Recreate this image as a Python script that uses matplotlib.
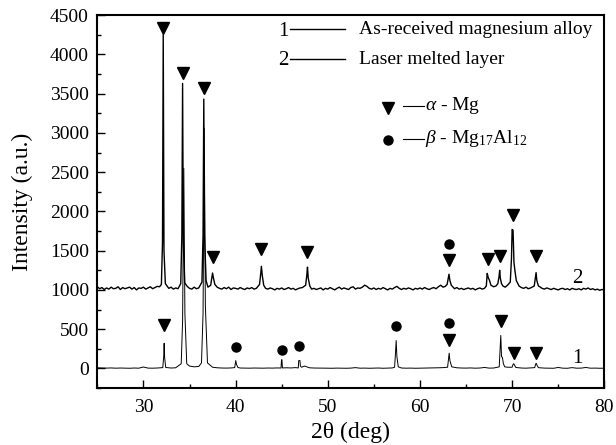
import numpy as np
import matplotlib
matplotlib.use('Agg')
import matplotlib.pyplot as plt
from matplotlib.ticker import MultipleLocator

plt.rcParams['font.family'] = ['Liberation Serif', 'DejaVu Serif']
plt.rcParams['mathtext.fontset'] = 'custom'
plt.rcParams['mathtext.rm'] = 'Liberation Serif'
plt.rcParams['mathtext.it'] = 'Liberation Serif:italic'

# ---- data ----
# curve 2 (laser melted layer): noisy baseline, 25..80 deg every 0.25 deg
base2_x = np.arange(25.0, 80.001, 0.25)
base2_y = [
    1040, 1015, 1030, 1005, 1025, 1010, 1035, 1015, 1020, 1040, 1005, 1030,
    1015, 1025, 1035, 1010, 1030, 1000, 1025, 1020, 1035, 1010, 1025, 1040,
    1015, 1030, 1045, 1040, 1050, 1000, 1030, 1020, 1035, 1010, 1025, 1015,
    1030, 1040, 1000, 1045, 1020, 1010, 1035, 1015, 1025, 1030, 1045, 1050,
    1035, 1030, 1050, 1060, 1035, 1020, 1010, 1030, 1015, 1035, 1005, 1025,
    1020, 1010, 1030, 1015, 1005, 1025, 1015, 1030, 1010, 1020, 1040, 1060,
    1040, 1020, 1010, 1025, 1015, 1000, 1020, 1010, 1025, 1005, 1015, 1030,
    1010, 1020, 1000, 1015, 1025, 1030, 1045, 1060, 1030, 1010, 1020, 1005,
    1015, 1025, 1000, 1020, 1010, 1030, 1015, 1000, 1020, 1035, 1010, 1025,
    1015, 1005, 1030, 1040, 1010, 1025, 1020, 1035, 1060, 1045, 1020, 1010,
    1025, 1005, 1020, 1010, 1030, 1015, 1000, 1020, 1010, 1030, 1045, 1020,
    1005, 1020, 1010, 1025, 1015, 1000, 1020, 1010, 1025, 1010, 1030, 1015,
    1005, 1020, 1030, 1015, 1040, 1060, 1035, 1045, 1050, 1040, 1025, 1015,
    1030, 1010, 1020, 1005, 1015, 1025, 1010, 1020, 1000, 1015, 1025, 1010,
    1020, 1040, 1080, 1060, 1040, 1050, 1070, 1090, 1050, 1035, 1060, 1090,
    1150, 1200, 1080, 1050, 1030, 1020, 1035, 1015, 1025, 1040, 1060, 1080,
    1040, 1020, 1010, 1025, 1015, 1005, 1020, 1010, 1000, 1015, 1020, 1005,
    1015, 1000, 1020, 1010, 1005, 1015, 1000, 1020, 1010, 1025, 1005, 1015,
    1000, 1010, 995, 1005, 1000,
]
peak2_x = [31.95, 32.07, 32.15, 32.23, 32.38,
           34.05, 34.17, 34.25, 34.33, 34.48,
           36.35, 36.47, 36.55, 36.63, 36.8,
           37.3, 37.42, 37.5, 37.6, 37.75,
           42.6, 42.72, 42.8, 42.9, 43.05,
           47.6, 47.72, 47.8, 47.88, 48.05,
           62.95, 63.08, 63.15, 63.25, 63.4,
           67.2, 67.3, 67.4, 67.55, 67.7,
           68.45, 68.57, 68.65, 68.72, 68.85,
           69.8, 69.93, 70.0, 70.1, 70.2, 70.3, 70.45,
           72.4, 72.52, 72.6, 72.68, 72.85]
peak2_y = [1070, 1600, 4250, 1500, 1080,
           1080, 1700, 3630, 1600, 1090,
           1100, 1700, 3430, 1700, 1120,
           1060, 1150, 1215, 1150, 1070,
           1070, 1200, 1300, 1180, 1060,
           1060, 1180, 1290, 1150, 1050,
           1070, 1150, 1200, 1120, 1060,
           1050, 1210, 1160, 1120, 1060,
           1080, 1160, 1250, 1150, 1080,
           1100, 1400, 1770, 1760, 1350, 1250, 1120,
           1050, 1150, 1220, 1120, 1050]

# curve 1 (as-received alloy): smooth baseline every 0.5 deg
base1_x = np.arange(25.0, 80.001, 0.5)
base1_y = [
    8, 5, 4, 6, 3, 5, 4, 2, 5, 3, 18, 4, 3, 5, 4, 6, 5, 8, 20, 40,
    30, 20, 25, 45, 30, 15, 8, 5, 4, 6, 8, 5, 4, 3, 5, 4, 3, 5, 4, 6,
    5, 8, 6, 10, 25, 30, 8, 5, 4, 3, 3, 2, 4, 3, 2, 4, 10, 3, 4, 2,
    3, 5, 2, 4, 6, 15, 5, 3, 4, 2, 3, 5, 4, 6, 8, 10, 15, 20, 8, 5,
    4, 6, 3, 5, 12, 4, 5, 15, 40, 15, 10, 20, 5, 3, 6, 10, 8, 4, 3, 2,
    12, 3, 2, 10, 3, 4, 12, 3, 4, 2, 3,
]
peak1_x = [32.1, 32.2, 32.25, 32.3, 32.42,
           34.1, 34.25, 34.38, 34.5, 34.7,
           36.3, 36.47, 36.6, 36.72, 36.95,
           39.9, 39.97, 40.02, 40.1, 40.25,
           44.93, 44.98, 45.03, 45.08,
           46.8, 46.85, 46.98, 47.03, 47.15,
           57.25, 57.35, 57.42, 57.5, 57.65,
           63.0, 63.1, 63.17, 63.25, 63.45,
           68.6, 68.7, 68.77, 68.85, 68.95, 69.05, 69.2,
           70.0, 70.1, 70.17, 70.25, 70.4,
           72.45, 72.55, 72.62, 72.7, 72.85]
peak1_y = [10, 150, 320, 140, 12,
           60, 600, 2550, 700, 60,
           70, 700, 3060, 800, 70,
           10, 60, 100, 50, 12,
           5, 110, 110, 6,
           6, 100, 100, 30, 15,
           15, 200, 355, 150, 20,
           15, 120, 195, 100, 20,
           20, 250, 420, 150, 140, 60, 20,
           15, 50, 60, 45, 12,
           10, 55, 65, 40, 10]

# phase markers
alpha2_x = [32.15, 34.25, 36.55, 37.5, 42.8, 47.8, 63.15, 67.35, 68.65, 70.05, 72.6]
alpha2_y = [4330, 3760, 3570, 1415, 1520, 1480, 1380, 1400, 1430, 1960, 1430]
beta2_x = [63.15]
beta2_y = [1580]
alpha1_x = [32.2, 63.15, 68.75, 70.2, 72.6]
alpha1_y = [555, 360, 610, 200, 200]
beta1_x = [40.0, 45.05, 46.9, 57.4, 63.15]
beta1_y = [275, 230, 290, 540, 575]


def merge(bx, by, px, py):
    bx = np.asarray(bx)
    by = np.asarray(by, dtype=float)
    px = np.asarray(px)
    keep = np.array([np.min(np.abs(px - x)) > 0.13 for x in bx])
    x = np.concatenate([bx[keep], px])
    y = np.concatenate([by[keep], np.asarray(py, dtype=float)])
    order = np.argsort(x)
    return x[order], y[order]


x1, y1 = merge(base1_x, base1_y, peak1_x, peak1_y)
x2, y2 = merge(base2_x, base2_y, peak2_x, peak2_y)

fig = plt.figure(figsize=(6.16, 4.45), dpi=100)
ax = fig.add_axes([0.158, 0.128, 0.823, 0.838])

ax.plot(x1, y1, color='black', lw=0.7)
ax.plot(x2, y2, color='black', lw=1.0)

ax.plot(alpha2_x, alpha2_y, 'v', color='black', ms=8, ls='none')
ax.plot(alpha1_x, alpha1_y, 'v', color='black', ms=8, ls='none')
ax.plot(beta2_x, beta2_y, 'o', color='black', ms=6.5, ls='none')
ax.plot(beta1_x, beta1_y, 'o', color='black', ms=6.5, ls='none')

ax.set_xlim(25, 80)
ax.set_ylim(-250, 4500)
ax.xaxis.set_major_locator(MultipleLocator(10))
ax.xaxis.set_minor_locator(MultipleLocator(5))
ax.yaxis.set_major_locator(MultipleLocator(500))
ax.yaxis.set_minor_locator(MultipleLocator(250))
ax.tick_params(which='both', direction='in', top=False, right=False,
               labelsize=14, width=1.0)
ax.tick_params(which='major', length=6)
ax.tick_params(which='minor', length=3)
ax.tick_params(axis='x', which='major', pad=8)
ax.tick_params(axis='y', which='major', pad=6)
for s in ax.spines.values():
    s.set_linewidth(1.5)

ax.set_xlabel('2θ (deg)', fontsize=17, labelpad=4)
ax.set_ylabel('Intensity (a.u.)', fontsize=17, labelpad=12)

# curve legend in the upper right
tr = ax.transAxes
ax.text(0.367, 0.957, '1', transform=tr, fontsize=15, ha='center', va='center')
ax.plot([0.381, 0.489], [0.962, 0.962], transform=tr, color='black', lw=1.0)
ax.text(0.517, 0.962, 'As-received magnesium alloy', transform=tr,
        fontsize=14, ha='left', va='center')
ax.text(0.367, 0.877, '2', transform=tr, fontsize=15, ha='center', va='center')
ax.plot([0.381, 0.489], [0.882, 0.882], transform=tr, color='black', lw=1.0)
ax.text(0.517, 0.882, 'Laser melted layer', transform=tr,
        fontsize=14, ha='left', va='center')

# phase key
ax.plot([0.574], [0.751], 'v', transform=tr, color='black', ms=8)
ax.plot([0.602, 0.645], [0.757, 0.757], transform=tr, color='black', lw=0.8)
ax.text(0.647, 0.757, r'$\alpha$ - Mg', transform=tr, fontsize=14,
        ha='left', va='center')
ax.plot([0.574], [0.665], 'o', transform=tr, color='black', ms=6.5)
ax.plot([0.602, 0.645], [0.668, 0.668], transform=tr, color='black', lw=0.8)
ax.text(0.647, 0.668, r'$\beta$ - Mg$_{17}$Al$_{12}$', transform=tr,
        fontsize=14, ha='left', va='center')

# curve numbers
ax.text(77.1, 1140, '2', fontsize=15, ha='center', va='center')
ax.text(77.1, 125, '1', fontsize=15, ha='center', va='center')

fig.savefig('out.png', dpi=100)
